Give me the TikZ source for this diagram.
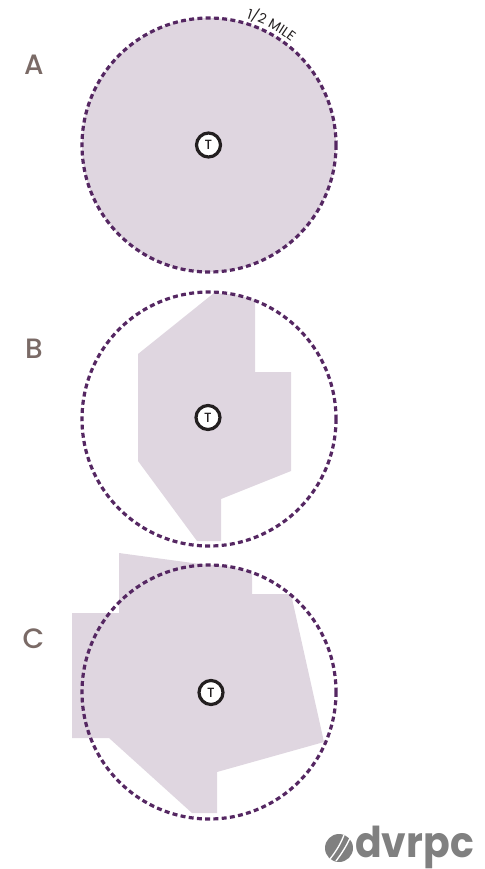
\documentclass[tikz,border=0pt]{standalone}
\usepackage{fontspec}
\setmainfont{Poppins}
\newfontfamily\pmed{Poppins Medium}
\usetikzlibrary{decorations.text}
\definecolor{zonefill}{HTML}{DFD6E0}
\definecolor{ringcol}{HTML}{552762}
\definecolor{labelcol}{HTML}{7A6A66}
\definecolor{logocol}{HTML}{808080}
\definecolor{stationcol}{HTML}{231F20}
\tikzset{
  halfmile/.style={draw=ringcol,line width=2.4pt,dash pattern=on 3.7pt off 2.5pt,fill=none},
  zone/.style={fill=zonefill,draw=none},
  station/.style={circle,draw=stationcol,line width=2.4pt,fill=white,minimum size=18pt,inner sep=0pt,text=stationcol,font=\fontsize{10pt}{10pt}\pmed\selectfont},
  panel/.style={text=labelcol,font=\fontsize{21pt}{22pt}\pmed\selectfont,inner sep=0pt},
}
\begin{document}
\begin{tikzpicture}[x=0.75pt,y=-0.75pt]
\useasboundingbox (0,0) rectangle (485,869);
% A
\fill[zone] (209,145) circle [radius=127];
\draw[halfmile] (209,145) circle [radius=127];
\node[station] (ta) at (208.5,145) {T};
\node[panel] (la) at (34,65) {A};
\path[decorate,decoration={text along path,text align={center},text color=stationcol,
  text={|\fontsize{10.3pt}{10pt}\selectfont|1/2 MILE}}]
  (209,145) ++(-79:132) arc[start angle=-79,end angle=-46,radius=132];
% B
\fill[zone] (214,293) -- (235,294.7) -- (255,300) -- (255,372) -- (291,372) -- (291,471)
  -- (221,499) -- (221,541) -- (197,541) -- (138,461) -- (138,354) -- cycle;
\draw[halfmile] (209,419) circle [radius=127];
\node[station] (tb) at (208,417.5) {T};
\node[panel] (lb) at (34,349) {B};
% C
\fill[zone] (119,553) -- (200,564) -- (226,566) -- (252,572) -- (252,594) -- (291,594) -- (324,742)
  -- (217,772) -- (217,813) -- (192,813) -- (109,738) -- (72,738) -- (72,613) -- (119,613) -- cycle;
\draw[halfmile] (209,692) circle [radius=127];
\node[station] (tc) at (211,692.5) {T};
\node[panel] (lc) at (33.5,639) {C};
% logo
\fill[logocol] (339,848) circle [radius=14];
\draw[white,line width=1pt] (330,859) .. controls (337,850) and (341,843) .. (344,835);
\draw[white,line width=1pt] (336,861) .. controls (342,853) and (347,845) .. (350,838);
\node[inner sep=0pt,text=logocol,anchor=base west] (logo) at (355,857) {\scalebox{1}[1.08]{\fontsize{29.5pt}{30pt}\selectfont\bfseries dvrpc}};
\end{tikzpicture}
\end{document}
